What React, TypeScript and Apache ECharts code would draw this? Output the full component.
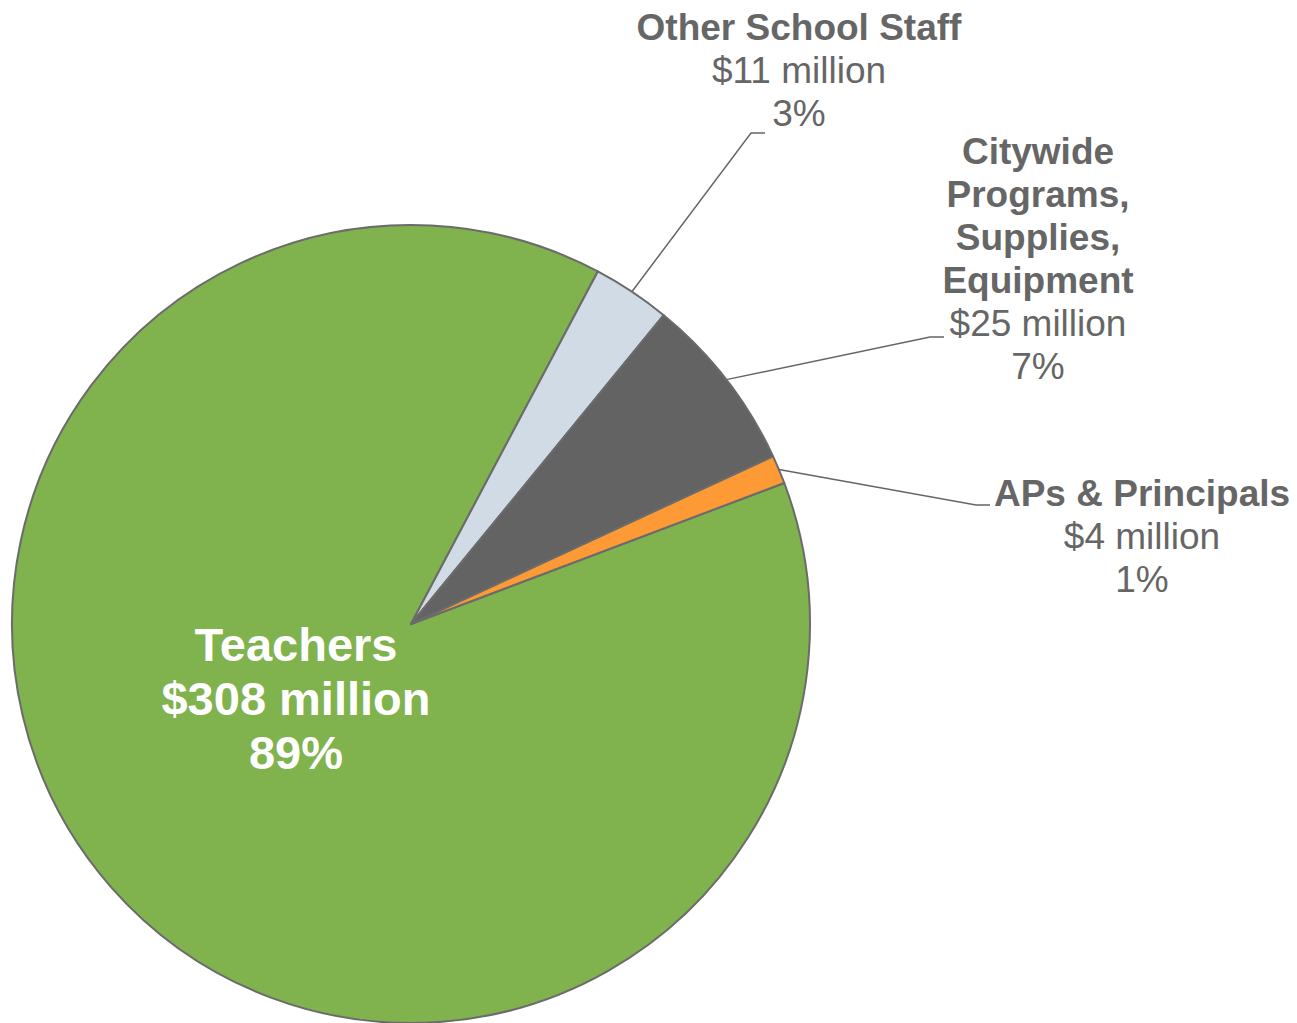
import React, { useEffect, useRef } from 'react';
import * as echarts from 'echarts';

// ---- data ----
const categories = ['Teachers', 'Other School Staff', 'Citywide\nPrograms,\nSupplies,\nEquipment', 'APs & Principals'];
const valuesMillions = [308, 11, 25, 4];
const sliceColors = ['#80b24e', '#d0dbe6', '#636363', '#fe9a35'];

// ---- label placement (layout only) ----
type Anchor = { x: number; y: number; inside?: boolean; elbow?: number[]; end?: number[] };
const labelAnchors: Anchor[] = [
  { x: 296, y: 698, inside: true },
  { x: 799, y: 6, elbow: [751, 133], end: [765, 133] },
  { x: 1038, y: 130, elbow: [930, 337], end: [944, 337] },
  { x: 1142, y: 472, elbow: [976, 505], end: [990, 505] },
];

const FONT = '"Liberation Sans", Arial, Helvetica, sans-serif';
const TEXT = '#666666';
const CX = 411;
const CY = 624;
const R = 399;
const START = 20.7;

export default function App() {
  const ref = useRef<HTMLDivElement>(null);

  useEffect(() => {
    if (!ref.current) return;
    const chart = echarts.init(ref.current, undefined, { renderer: 'svg' });
    const total = valuesMillions.reduce((a, b) => a + b, 0);
    const pct = (v: number) => Math.round((v / total) * 100);

    const edgePoint = (idx: number) => {
      let acc = 0;
      for (let i = 0; i < idx; i++) acc += valuesMillions[i];
      const mid = acc + valuesMillions[idx] / 2;
      const ang = ((START - (mid / total) * 360) * Math.PI) / 180;
      return [CX + R * Math.cos(ang), CY - R * Math.sin(ang)];
    };

    const data = categories.map((name, i) => {
      const item: any = {
        name,
        value: valuesMillions[i],
        itemStyle: { color: sliceColors[i] },
      };
      if (labelAnchors[i].inside) {
        item.label = {
          position: 'inside',
          formatter: (p: any) =>
            `{t|${p.name}}\n{t|$${p.value} million}\n{t|${pct(p.value)}%}`,
          rich: {
            t: {
              fontFamily: FONT,
              fontWeight: 'bold',
              fontSize: 47,
              lineHeight: 54,
              color: '#ffffff',
              align: 'center',
            },
          },
        };
        item.labelLine = { show: false };
      }
      return item;
    });

    chart.setOption({
      animation: false,
      backgroundColor: '#ffffff',
      series: [
        {
          type: 'pie',
          center: [CX, CY],
          radius: R,
          startAngle: START,
          clockwise: true,
          avoidLabelOverlap: false,
          silent: true,
          itemStyle: { borderColor: '#6b6b6b', borderWidth: 2 },
          label: {
            show: true,
            position: 'outside',
            alignTo: 'none',
            formatter: (p: any) => {
              const nameLines = String(p.name)
                .split('\n')
                .map((l: string) => `{n|${l}}`)
                .join('\n');
              return `${nameLines}\n{v|$${p.value} million}\n{v|${pct(p.value)}%}`;
            },
            rich: {
              n: {
                fontFamily: FONT,
                fontWeight: 'bold',
                fontSize: 37,
                lineHeight: 43,
                color: TEXT,
                align: 'center',
              },
              v: {
                fontFamily: FONT,
                fontSize: 37,
                lineHeight: 43,
                color: TEXT,
                align: 'center',
              },
            },
          },
          labelLine: {
            show: true,
            length: 20,
            length2: 14,
            lineStyle: { color: '#666666', width: 1.5 },
          },
          labelLayout: (params: any) => {
            const a = labelAnchors[params.dataIndex];
            if (a.inside) {
              return { x: a.x, y: a.y, align: 'center', verticalAlign: 'middle' };
            }
            const p0 =
              params.labelLinePoints && params.labelLinePoints[0]
                ? params.labelLinePoints[0]
                : edgePoint(params.dataIndex);
            return {
              x: a.x,
              y: a.y,
              align: 'center',
              verticalAlign: 'top',
              labelLinePoints: [p0, a.elbow, a.end],
            };
          },
          data,
        },
      ],
    });
    return () => chart.dispose();
  }, []);

  return (
    <div
      ref={ref}
      style={{ position: 'absolute', left: 0, top: 0, width: 1297, height: 1023, background: '#fff' }}
    />
  );
}
